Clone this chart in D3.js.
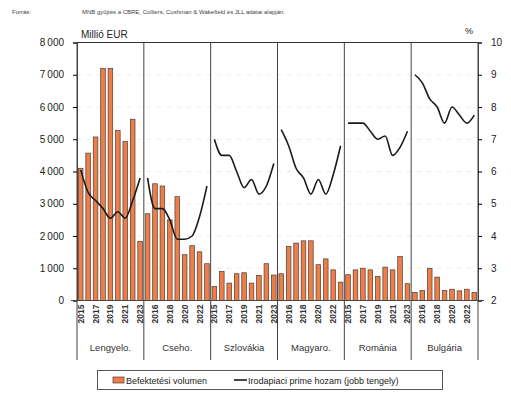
<!DOCTYPE html>
<html><head><meta charset="utf-8">
<script src="https://cdn.jsdelivr.net/npm/d3@7"></script>
<style>body{margin:0;background:#fff}svg{display:block}</style>
</head><body>
<svg id="c" width="511" height="394"></svg>
<script>
const countries = ["Lengyelo.", "Cseho.", "Szlovákia", "Magyaro.", "Románia", "Bulgária"];
const years = [2015, 2016, 2017, 2018, 2019, 2020, 2021, 2022, 2023];
const volume = [
  [4100, 4570, 5070, 7200, 7200, 5270, 4930, 5620, 1830],
  [2690, 3620, 3550, 2500, 3220, 1420, 1700, 1510, 1140],
  [430, 900, 540, 830, 860, 540, 780, 1140, 790],
  [830, 1680, 1780, 1850, 1850, 1110, 1290, 950, 570],
  [800, 950, 1000, 950, 750, 1035, 950, 1370, 520],
  [250, 310, 1000, 725, 310, 350, 300, 350, 250]
];
const yieldPct = [
  [6.05, 5.35, 5.1, 4.85, 4.55, 4.75, 4.55, 5.1, 5.8],
  [5.8, 4.85, 4.85, 4.5, 3.9, 3.9, 4.0, 4.6, 5.55],
  [7.0, 6.5, 6.5, 6.0, 5.5, 5.75, 5.3, 5.55, 6.25],
  [7.3, 6.8, 6.1, 5.8, 5.3, 5.75, 5.3, 5.9, 6.8],
  [7.5, 7.5, 7.5, 7.25, 7.0, 7.1, 6.5, 6.75, 7.25],
  [9.0, 8.75, 8.25, 8.0, 7.5, 8.0, 7.75, 7.5, 7.75]
];
const leftTicks = [0, 1000, 2000, 3000, 4000, 5000, 6000, 7000, 8000];
const rightTicks = [2, 3, 4, 5, 6, 7, 8, 9, 10];
const sourceLabel = "Forrás:";
const sourceText = "MNB gyűjtés a CBRE, Colliers, Cushman & Wakefield és JLL adatai alapján.";
const leftUnit = "Millió EUR";
const rightUnit = "%";
const legendLabels = ["Befektetési volumen", "Irodapiaci prime hozam (jobb tengely)"];

const svg = d3.select("#c");
const L = 77, R = 478, T = 42.5, B = 300.5;
const font = "Liberation Sans, Arial, sans-serif";

const cats = [];
countries.forEach((c, ci) => years.forEach((y, yi) => cats.push({c: ci, y: y, i: ci * years.length + yi, v: volume[ci][yi], p: yieldPct[ci][yi]})));

const x = d3.scaleBand().domain(cats.map(d => d.i)).range([L, R]).paddingInner(0.38).paddingOuter(0.19);
const yL = d3.scaleLinear().domain([0, 8000]).range([B, T]);
const yR = d3.scaleLinear().domain([2, 10]).range([B, T]);
const step = x.step();

// gridlines
svg.append("g").selectAll("line").data(leftTicks.slice(1, -1)).join("line")
  .attr("x1", L).attr("x2", R).attr("y1", d => yL(d)).attr("y2", d => yL(d))
  .attr("stroke", "#e4e4e4").attr("stroke-width", 0.8).attr("stroke-dasharray", "4,6");

// bars
svg.append("g").selectAll("rect").data(cats).join("rect")
  .attr("x", d => x(d.i)).attr("width", x.bandwidth())
  .attr("y", d => yL(d.v)).attr("height", d => B - yL(d.v))
  .attr("fill", "#ef7d48").attr("stroke", "#4a3e36").attr("stroke-width", 0.7);

// lines per country
const line = d3.line().curve(d3.curveMonotoneX).x(d => x(d.i) + x.bandwidth() / 2).y(d => yR(d.p));
countries.forEach((c, ci) => {
  svg.append("path").datum(cats.filter(d => d.c === ci))
    .attr("d", line).attr("fill", "none").attr("stroke", "#1a1a1a").attr("stroke-width", 1.6)
    .attr("stroke-linejoin", "round");
});

// frame: top line and panel separators
svg.append("line").attr("x1", L).attr("x2", R).attr("y1", T).attr("y2", T).attr("stroke", "#333").attr("stroke-width", 1);
const sepX = d3.range(0, countries.length + 1).map(k => L + k * step * years.length);
svg.append("g").selectAll("line").data(sepX).join("line")
  .attr("x1", d => d).attr("x2", d => d).attr("y1", T).attr("y2", 360)
  .attr("stroke", "#444").attr("stroke-width", 1);

// left axis
const gl = svg.append("g").attr("transform", `translate(${L},0)`)
  .call(d3.axisLeft(yL).tickValues(leftTicks).tickSize(4).tickFormat(d => d3.format(",")(d).replace(/,/g, "\u2009")));
gl.select(".domain").attr("stroke", "#444");
gl.selectAll("text").attr("font-family", font).attr("font-size", 10).attr("fill", "#222").attr("dx", -6);

// right axis
const gr = svg.append("g").attr("transform", `translate(${R},0)`)
  .call(d3.axisRight(yR).tickValues(rightTicks).tickSize(4));
gr.select(".domain").attr("stroke", "#444");
gr.selectAll("text").attr("font-family", font).attr("font-size", 10).attr("fill", "#222").attr("dx", 6);

// bottom axis line
svg.append("line").attr("x1", L - 6).attr("x2", R + 6).attr("y1", B).attr("y2", B).attr("stroke", "#444").attr("stroke-width", 1);

// year labels (every other category)
svg.append("g").selectAll("text").data(cats.filter(d => d.i % 2 === 0)).join("text")
  .attr("transform", d => `translate(${x(d.i) + x.bandwidth() / 2 + 3},${B + 4}) rotate(-90)`)
  .attr("text-anchor", "end").attr("font-family", font).attr("font-weight", "bold")
  .attr("font-size", 8.5).attr("fill", "#333").text(d => d.y);

// country labels
svg.append("g").selectAll("text").data(countries).join("text")
  .attr("x", (d, k) => L + (k + 0.5) * step * years.length).attr("y", 351)
  .attr("text-anchor", "middle").attr("font-family", font).attr("font-size", 9.5).attr("fill", "#333").text(d => d);

// units
svg.append("text").attr("x", 81).attr("y", 38).attr("font-family", font).attr("font-size", 10).attr("fill", "#222").text(leftUnit);
svg.append("text").attr("x", 473).attr("y", 34).attr("text-anchor", "end").attr("font-family", font).attr("font-size", 9).attr("fill", "#222").text(rightUnit);

// source
svg.append("text").attr("x", 12).attr("y", 14).attr("font-family", font).attr("font-size", 6).attr("fill", "#444").text(sourceLabel);
svg.append("text").attr("x", 82).attr("y", 14).attr("font-family", font).attr("font-size", 6).attr("fill", "#444").text(sourceText);

// legend
const lg = svg.append("g");
lg.append("rect").attr("x", 97.5).attr("y", 370.5).attr("width", 345).attr("height", 19).attr("fill", "#fff").attr("stroke", "#555").attr("stroke-width", 1);
lg.append("rect").attr("x", 113).attr("y", 377).attr("width", 11).attr("height", 6).attr("fill", "#ef7d48").attr("stroke", "#4a3e36").attr("stroke-width", 0.7);
lg.append("text").attr("x", 126).attr("y", 383.5).attr("font-family", font).attr("font-size", 9).attr("fill", "#222").text(legendLabels[0]);
lg.append("line").attr("x1", 234).attr("x2", 247).attr("y1", 380).attr("y2", 380).attr("stroke", "#1a1a1a").attr("stroke-width", 1.6);
lg.append("text").attr("x", 248).attr("y", 383.5).attr("font-family", font).attr("font-size", 9).attr("fill", "#222").text(legendLabels[1]);
</script>
</body></html>
